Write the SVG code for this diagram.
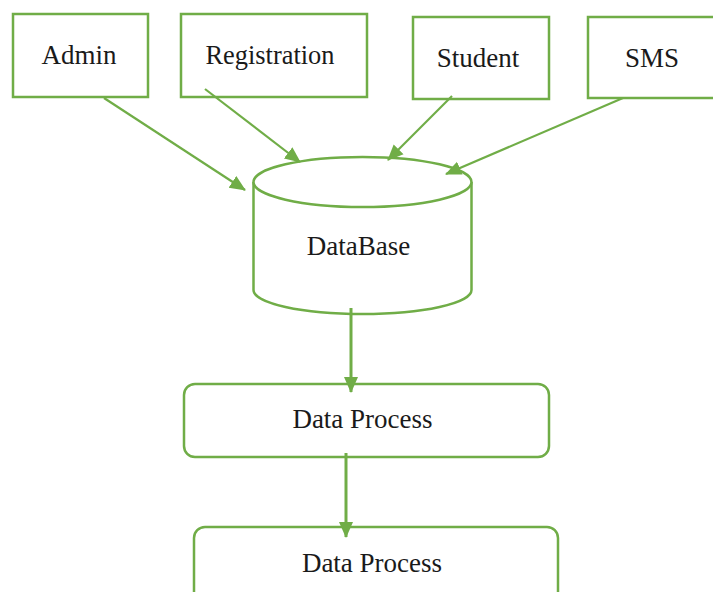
<svg xmlns="http://www.w3.org/2000/svg" width="713" height="592" viewBox="0 0 713 592">
<style>
.box{fill:#fff;stroke:#70AD47;stroke-width:2.5}
.lbl{font-family:"Liberation Serif","Times New Roman",serif;font-size:27px;fill:#1a1a1a;text-anchor:middle}
.conn{stroke:#70AD47;stroke-width:2.2;fill:none}
.thick{stroke-width:3}
</style>
<defs>
<marker id="ah" markerUnits="userSpaceOnUse" markerWidth="16" markerHeight="16" viewBox="0 0 16 16" refX="15" refY="8" orient="auto">
<path d="M0,1 L16,8 L0,15 Z" fill="#70AD47"/>
</marker>
</defs>
<rect width="713" height="592" fill="#fff"/>
<g id="admin"><rect class="box" x="13" y="14" width="135" height="83"/><text class="lbl" x="79" y="64">Admin</text></g>
<g id="registration"><rect class="box" x="181" y="14" width="186" height="83"/><text class="lbl" x="270" y="64" textLength="129" lengthAdjust="spacingAndGlyphs">Registration</text></g>
<g id="student"><rect class="box" x="413" y="17" width="136" height="82"/><text class="lbl" x="478" y="67">Student</text></g>
<g id="sms"><rect class="box" x="588" y="17" width="140" height="81"/><text class="lbl" x="652" y="67">SMS</text></g>
<g id="database">
<path class="box" d="M253.5,182 L253.5,290 A109,24 0 0 0 471.5,290 L471.5,182"/>
<ellipse class="box" cx="362.5" cy="182" rx="109" ry="25"/>
<text class="lbl" x="358.5" y="255">DataBase</text>
</g>
<g id="process1"><rect class="box" x="184" y="384" width="365" height="73" rx="11"/><text class="lbl" x="362.5" y="428">Data Process</text></g>
<g id="process2"><rect class="box" x="194" y="527" width="364" height="80" rx="11"/><text class="lbl" x="372" y="572">Data Process</text></g>
<g id="connectors">
<line class="conn" x1="104" y1="98" x2="245" y2="190" marker-end="url(#ah)"/>
<line class="conn" x1="205" y1="89" x2="300" y2="162" marker-end="url(#ah)"/>
<line class="conn" x1="452" y1="96" x2="388" y2="160" marker-end="url(#ah)"/>
<line class="conn" x1="623" y1="98" x2="446" y2="174" marker-end="url(#ah)"/>
<line class="conn thick" x1="351" y1="308" x2="351" y2="392" marker-end="url(#ah)"/>
<line class="conn thick" x1="346" y1="453" x2="346" y2="537" marker-end="url(#ah)"/>
</g>
</svg>
